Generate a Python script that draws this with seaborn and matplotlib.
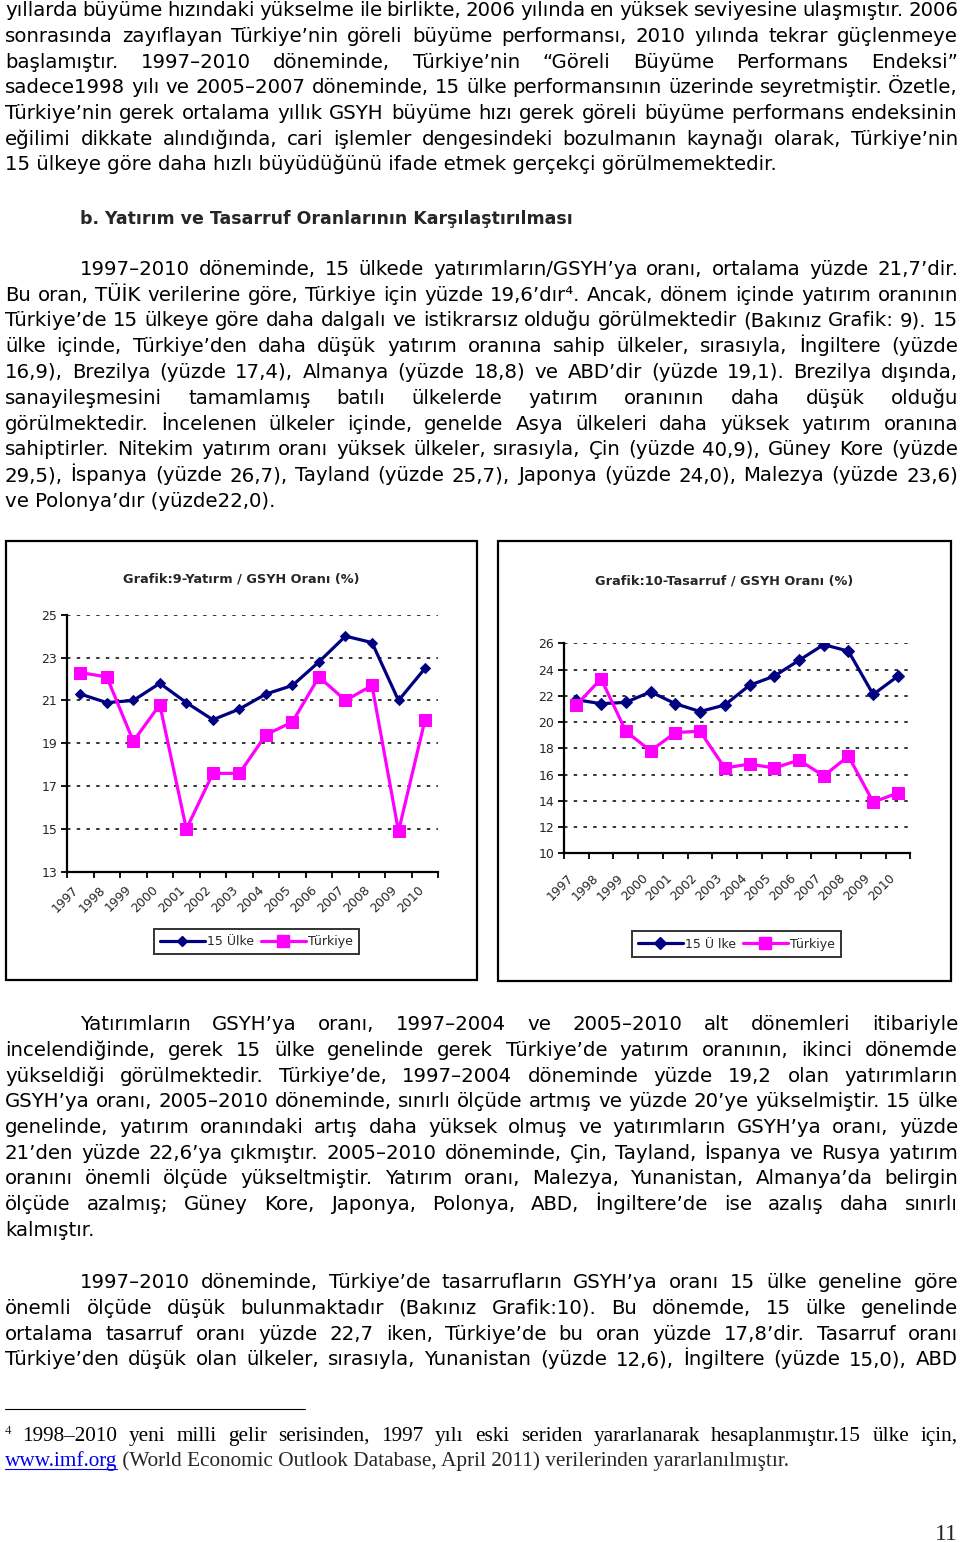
import matplotlib
matplotlib.use('Agg')
import matplotlib.pyplot as plt
import seaborn as sns
import numpy as np
from matplotlib.lines import Line2D
from matplotlib.patches import Rectangle

# ---------------- data ----------------
years = [str(y) for y in range(1997, 2011)]
inv_15 = [21.3, 20.9, 21.0, 21.8, 20.9, 20.1, 20.6, 21.3, 21.7, 22.8, 24.0, 23.7, 21.0, 22.5]
inv_tr = [22.3, 22.1, 19.1, 20.8, 15.0, 17.6, 17.6, 19.4, 20.0, 22.1, 21.0, 21.7, 14.9, 20.1]
sav_15 = [21.7, 21.4, 21.5, 22.3, 21.4, 20.8, 21.3, 22.8, 23.5, 24.7, 25.9, 25.4, 22.1, 23.5]
sav_tr = [21.3, 23.3, 19.3, 17.8, 19.2, 19.3, 16.5, 16.8, 16.5, 17.1, 15.9, 17.4, 13.9, 14.6]
names_left = ['15 Ülke', 'Türkiye']
names_right = ['15 Ü lke', 'Türkiye']
title_left = 'Grafik:9-Yatırm / GSYH Oranı (%)'
title_right = 'Grafik:10-Tasarruf / GSYH Oranı (%)'
yticks_left = [13, 15, 17, 19, 21, 23, 25]
yticks_right = [10, 12, 14, 16, 18, 20, 22, 24, 26]

para1 = [
    "yıllarda büyüme hızındaki yükselme ile birlikte, 2006 yılında en yüksek seviyesine ulaşmıştır. 2006",
    "sonrasında zayıflayan Türkiye’nin göreli büyüme performansı, 2010 yılında tekrar güçlenmeye",
    "başlamıştır. 1997–2010 döneminde, Türkiye’nin “Göreli Büyüme Performans Endeksi”",
    "sadece1998 yılı ve 2005–2007 döneminde, 15 ülke performansının üzerinde seyretmiştir. Özetle,",
    "Türkiye’nin gerek ortalama yıllık GSYH büyüme hızı gerek göreli büyüme performans endeksinin",
    "eğilimi dikkate alındığında, cari işlemler dengesindeki bozulmanın kaynağı olarak, Türkiye’nin",
    "15 ülkeye göre daha hızlı büyüdüğünü ifade etmek gerçekçi görülmemektedir.",
]
heading = "b. Yatırım ve Tasarruf Oranlarının Karşılaştırılması"
para2 = [
    "1997–2010 döneminde, 15 ülkede yatırımların/GSYH’ya oranı, ortalama yüzde 21,7’dir.",
    "Bu oran, TÜİK verilerine göre, Türkiye için yüzde 19,6’dır⁴. Ancak, dönem içinde yatırım oranının",
    "Türkiye’de 15 ülkeye göre daha dalgalı ve istikrarsız olduğu görülmektedir (Bakınız Grafik: 9). 15",
    "ülke içinde, Türkiye’den daha düşük yatırım oranına sahip ülkeler, sırasıyla, İngiltere (yüzde",
    "16,9), Brezilya (yüzde 17,4), Almanya (yüzde 18,8) ve ABD’dir (yüzde 19,1). Brezilya dışında,",
    "sanayileşmesini tamamlamış batılı ülkelerde yatırım oranının daha düşük olduğu",
    "görülmektedir. İncelenen ülkeler içinde, genelde Asya ülkeleri daha yüksek yatırım oranına",
    "sahiptirler. Nitekim yatırım oranı yüksek ülkeler, sırasıyla, Çin (yüzde 40,9), Güney Kore (yüzde",
    "29,5), İspanya (yüzde 26,7), Tayland (yüzde 25,7), Japonya (yüzde 24,0), Malezya (yüzde 23,6)",
    "ve Polonya’dır (yüzde22,0).",
]
para3 = [
    "Yatırımların GSYH’ya oranı, 1997–2004 ve 2005–2010 alt dönemleri itibariyle",
    "incelendiğinde, gerek 15 ülke genelinde gerek Türkiye’de yatırım oranının, ikinci dönemde",
    "yükseldiği görülmektedir. Türkiye’de, 1997–2004 döneminde yüzde 19,2 olan yatırımların",
    "GSYH’ya oranı, 2005–2010 döneminde, sınırlı ölçüde artmış ve yüzde 20’ye yükselmiştir. 15 ülke",
    "genelinde, yatırım oranındaki artış daha yüksek olmuş ve yatırımların GSYH’ya oranı, yüzde",
    "21’den yüzde 22,6’ya çıkmıştır. 2005–2010 döneminde, Çin, Tayland, İspanya ve Rusya yatırım",
    "oranını önemli ölçüde yükseltmiştir. Yatırım oranı, Malezya, Yunanistan, Almanya’da belirgin",
    "ölçüde azalmış; Güney Kore, Japonya, Polonya, ABD, İngiltere’de ise azalış daha sınırlı",
    "kalmıştır.",
]
para4 = [
    "1997–2010 döneminde, Türkiye’de tasarrufların GSYH’ya oranı 15 ülke geneline göre",
    "önemli ölçüde düşük bulunmaktadır (Bakınız Grafik:10). Bu dönemde, 15 ülke genelinde",
    "ortalama tasarruf oranı yüzde 22,7 iken, Türkiye’de bu oran yüzde 17,8’dir. Tasarruf oranı",
    "Türkiye’den düşük olan ülkeler, sırasıyla, Yunanistan (yüzde 12,6), İngiltere (yüzde 15,0), ABD",
]
foot1 = "1998–2010 yeni milli gelir serisinden, 1997 yılı eski seriden yararlanarak hesaplanmıştır.15 ülke için,"
foot_link = "www.imf.org"
foot2 = " (World Economic Outlook Database, April 2011) verilerinden yararlanılmıştır."
page_no = "11"

# ---------------- setup ----------------
sns.set_theme(style='white')
plt.rcParams['font.family'] = ['DejaVu Sans']
plt.rcParams['lines.scale_dashes'] = False

W, H = 960, 1542
fig = plt.figure(figsize=(9.6, 15.42), dpi=100)
fig.patch.set_facecolor('white')
renderer = fig.canvas.get_renderer()
NAVY = '#000080'
MAG = '#FF00FF'
BODY = ['DejaVu Sans']
SERIF = ['Liberation Serif', 'DejaVu Serif']


def fx(x):
    return x / W


def fy(y):
    return 1 - y / H


def text_width(s, fs, **kw):
    t = fig.text(0, 0, s, fontsize=fs, **kw)
    w = t.get_window_extent(renderer).width
    t.remove()
    return w


def put_line(s, y, x0, x1, fs, justify=True, **kw):
    if not justify:
        fig.text(fx(x0), fy(y), s, fontsize=fs, ha='left', va='baseline', **kw)
        return
    words = s.split(' ')
    objs = [fig.text(0, fy(y), w, fontsize=fs, ha='left', va='baseline', **kw) for w in words]
    widths = [o.get_window_extent(renderer).width for o in objs]
    gap = (x1 - x0 - sum(widths)) / max(len(words) - 1, 1)
    gap = max(gap, 2)
    x = x0
    for o, w in zip(objs, widths):
        o.set_x(fx(x))
        x += w + gap


# body font size fitted to the unjustified last line of para1
fs_body = 0.965 * 12 * 801 / text_width(para1[-1], 12, family=BODY)
fs_head = 12 * 488 / text_width(heading, 12, family=BODY, weight='bold')

XL, XR = 5, 958
STEP = 25.75


def put_para(lines, y0, indent, last_justified=False):
    for i, s in enumerate(lines):
        x0 = indent if i == 0 else XL
        just = (i < len(lines) - 1) or last_justified
        put_line(s, y0 + i * STEP, x0, XR, fs_body, justify=just, family=BODY, color='black')


put_para(para1, 16, XL)
fig.text(fx(80), fy(224), heading, fontsize=fs_head, weight='bold', family=BODY,
         ha='left', va='baseline')
put_para(para2, 275, 80)
put_para(para3, 1030, 80)
put_para(para4, 1288, 80, last_justified=True)

# footnote
fig.add_artist(Line2D([fx(5), fx(305)], [fy(1409), fy(1409)], color='black', lw=0.8))
fs_foot = 12 * 782 / text_width(foot_link + foot2, 12, family=SERIF)
fig.text(fx(5), fy(1434), '4', fontsize=fs_foot * 0.6, family=SERIF, ha='left', va='baseline')
put_line(foot1, 1441, 22, XR, fs_foot, justify=True, family=SERIF, color='black')
t_link = fig.text(fx(5), fy(1466), foot_link, fontsize=fs_foot, family=SERIF, color='#0000EE',
                  ha='left', va='baseline')
wl = t_link.get_window_extent(renderer).width
fig.add_artist(Line2D([fx(5), fx(5 + wl)], [fy(1469), fy(1469)], color='#0000EE', lw=0.8))
fig.text(fx(5 + wl), fy(1466), foot2, fontsize=fs_foot, family=SERIF, ha='left', va='baseline')
fig.text(fx(958), fy(1540), page_no, fontsize=17, family=SERIF, ha='right', va='baseline')


# ---------------- charts ----------------
def make_chart(frame, box, ylim, yticks, s15, str_, names, title, title_xy, leg_xy,
               lab_off, lab_pad, ms_d, ms_s):
    fig.add_artist(Rectangle((fx(frame[0]), fy(frame[3])), (frame[2] - frame[0]) / W,
                             (frame[3] - frame[1]) / H, transform=fig.transFigure,
                             fill=False, lw=1.6, edgecolor='black'))
    x0, ytop, x1, ybot = box
    ax = fig.add_axes([fx(x0), fy(ybot), (x1 - x0) / W, (ybot - ytop) / H])
    ax.set_facecolor('none')
    pos = np.arange(len(years)) + 0.5
    sns.lineplot(x=pos, y=s15, ax=ax, color=NAVY, lw=2.3, marker='D', markersize=ms_d,
                 markeredgecolor=NAVY, markerfacecolor=NAVY)
    sns.lineplot(x=pos, y=str_, ax=ax, color=MAG, lw=2.3, marker='s', markersize=ms_s,
                 markeredgecolor=MAG, markerfacecolor=MAG)
    ax.set_xlim(0, len(years))
    ax.set_ylim(*ylim)
    ax.set_yticks(yticks)
    ax.set_yticklabels([str(v) for v in yticks])
    ax.set_xticks(np.arange(len(years) + 1))
    ax.set_xticklabels([])
    ax.set_xticks(np.arange(len(years)) + lab_off, labels=years, minor=True)
    ax.tick_params(axis='x', which='minor', length=0, pad=lab_pad, labelsize=9)
    ax.tick_params(axis='x', which='major', direction='out', length=4, width=1.3, color='black',
                   bottom=True)
    ax.tick_params(axis='y', direction='out', length=4, width=1.3, color='black', left=True,
                   labelsize=9, pad=3)
    for lab in ax.get_xticklabels(minor=True):
        lab.set_rotation(45)
        lab.set_ha('right')
        lab.set_va('top')
        lab.set_rotation_mode('anchor')
    for sp in ['top', 'right']:
        ax.spines[sp].set_visible(False)
    for sp in ['left', 'bottom']:
        ax.spines[sp].set_color('black')
        ax.spines[sp].set_linewidth(1.6)
    ax.yaxis.grid(True, color='black', linestyle=(0, (2.5, 4.5)), lw=1.1)
    ax.xaxis.grid(False)
    ax.set_axisbelow(True)
    ax.set_xlabel('')
    ax.set_ylabel('')
    fig.text(fx(title_xy[0]), fy(title_xy[1]), title, fontsize=9.3, weight='bold',
             ha='center', va='center')
    handles = [Line2D([], [], color=NAVY, lw=2.3, marker='D', markersize=ms_d),
               Line2D([], [], color=MAG, lw=2.3, marker='s', markersize=ms_s)]
    leg = fig.legend(handles, names, loc='center', bbox_to_anchor=(fx(leg_xy[0]), fy(leg_xy[1])),
                     bbox_transform=fig.transFigure, ncol=2, frameon=True, fancybox=False,
                     edgecolor='black', fontsize=9, handlelength=3.6, handletextpad=0.2,
                     columnspacing=0.5, borderpad=0.5, borderaxespad=0)
    leg.get_frame().set_linewidth(1.4)
    return ax


make_chart((6, 541, 477, 980), (67, 614.7, 438.3, 872), (13, 25), yticks_left,
           inv_15, inv_tr, names_left, title_left, (241, 579), (256.5, 941.5), 0.2, 8, 5.5, 8)
make_chart((498, 541, 951, 981), (564, 643.3, 910.3, 853.3), (10, 26), yticks_right,
           sav_15, sav_tr, names_right, title_right, (724.5, 581), (736.5, 944), 0.12, 13, 6.5, 8)

fig.savefig('out.png', dpi=100, facecolor='white')
